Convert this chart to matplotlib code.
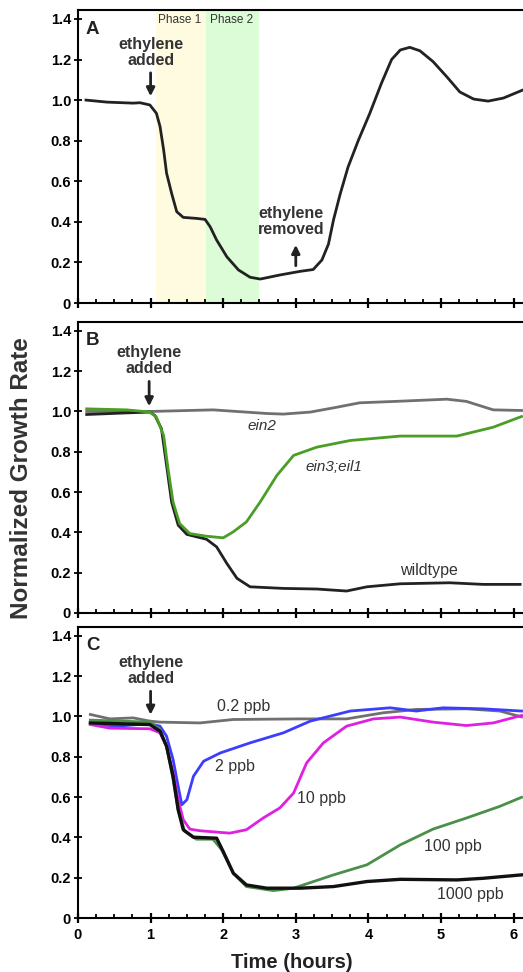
import matplotlib.pyplot as plt
from matplotlib.ticker import MultipleLocator, FixedLocator, FuncFormatter

plt.rcParams['font.family'] = ['Liberation Sans', 'DejaVu Sans']

# panel A: wildtype response, ethylene added then removed
a_t = [0.11, 0.40, 0.76, 0.854, 0.99, 1.08, 1.13, 1.18, 1.22, 1.29, 1.36, 1.45, 1.63, 1.75,
       1.82, 1.91, 2.05, 2.21, 2.37, 2.51, 2.78, 3.06, 3.24, 3.36, 3.45, 3.52, 3.61, 3.72,
       3.86, 4.02, 4.18, 4.32, 4.44, 4.57, 4.71, 4.89, 5.08, 5.26, 5.45, 5.65, 5.86, 6.13]
a_y = [1.00, 0.99, 0.985, 0.987, 0.976, 0.935, 0.87, 0.754, 0.64, 0.54, 0.45, 0.422, 0.417,
       0.412, 0.376, 0.31, 0.228, 0.163, 0.127, 0.118, 0.138, 0.156, 0.165, 0.212, 0.29, 0.41,
       0.535, 0.67, 0.80, 0.935, 1.083, 1.20, 1.247, 1.26, 1.243, 1.19, 1.115, 1.04, 1.005,
       0.995, 1.01, 1.05]

# panel B: mutants
ein2_t = [0.12, 0.99, 1.86, 2.6, 2.83, 3.2, 3.52, 3.88, 4.44, 5.08, 5.35, 5.72, 6.11]
ein2_y = [1.0, 1.0, 1.008, 0.99, 0.987, 0.997, 1.018, 1.043, 1.051, 1.061, 1.05, 1.008, 1.005]
wt_t = [0.12, 0.67, 0.99, 1.06, 1.15, 1.22, 1.29, 1.38, 1.50, 1.77, 1.91, 2.05, 2.19, 2.37,
        2.83, 3.29, 3.70, 3.98, 4.44, 5.12, 5.58, 6.09]
wt_y = [0.985, 0.993, 0.997, 0.98, 0.914, 0.733, 0.55, 0.436, 0.39, 0.366, 0.328, 0.246, 0.172,
        0.13, 0.122, 0.119, 0.109, 0.130, 0.145, 0.15, 0.142, 0.142]
ein3_t = [0.12, 0.67, 0.99, 1.08, 1.18, 1.24, 1.31, 1.40, 1.54, 1.77, 2.0, 2.14, 2.32, 2.51,
          2.74, 2.97, 3.29, 3.75, 4.44, 5.22, 5.72, 6.11]
ein3_y = [1.013, 1.008, 0.997, 0.972, 0.88, 0.716, 0.55, 0.444, 0.394, 0.381, 0.373, 0.403,
          0.452, 0.551, 0.683, 0.782, 0.823, 0.856, 0.878, 0.878, 0.922, 0.975]

# panel C: dose response
p02_t = [0.17, 0.44, 0.76, 0.99, 1.13, 1.68, 2.14, 3.06, 3.70, 4.2, 4.66, 5.35, 5.81, 6.11]
p02_y = [1.01, 0.988, 0.993, 0.977, 0.972, 0.968, 0.985, 0.988, 0.988, 1.018, 1.035, 1.038,
         1.027, 0.998]
p2_t = [0.17, 0.53, 0.99, 1.13, 1.22, 1.31, 1.38, 1.43, 1.50, 1.59, 1.73, 1.96, 2.37, 2.83,
        3.20, 3.75, 4.30, 4.66, 5.03, 5.58, 6.11]
p2_y = [0.964, 0.952, 0.964, 0.952, 0.902, 0.786, 0.653, 0.562, 0.587, 0.703, 0.778, 0.819,
        0.869, 0.919, 0.977, 1.027, 1.043, 1.027, 1.043, 1.038, 1.027]
p10_t = [0.17, 0.44, 0.99, 1.13, 1.22, 1.31, 1.38, 1.45, 1.54, 1.68, 2.09, 2.32, 2.55, 2.78,
         2.97, 3.15, 3.38, 3.70, 4.07, 4.44, 4.89, 5.35, 5.72, 6.11]
p10_y = [0.96, 0.942, 0.939, 0.919, 0.852, 0.72, 0.587, 0.488, 0.441, 0.433, 0.421, 0.438,
         0.496, 0.546, 0.62, 0.77, 0.869, 0.952, 0.988, 0.997, 0.972, 0.955, 0.968, 1.005]
p100_t = [0.17, 0.99, 1.13, 1.22, 1.31, 1.38, 1.47, 1.63, 1.86, 1.98, 2.14, 2.32, 2.69, 2.97,
          3.52, 3.98, 4.44, 4.89, 5.35, 5.81, 6.11]
p100_y = [0.982, 0.972, 0.935, 0.852, 0.687, 0.537, 0.43, 0.391, 0.391, 0.338, 0.222, 0.156,
          0.136, 0.148, 0.214, 0.264, 0.363, 0.441, 0.496, 0.554, 0.599]
p1000_t = [0.17, 0.99, 1.13, 1.22, 1.31, 1.38, 1.45, 1.59, 1.91, 2.0, 2.14, 2.32, 2.60, 3.06,
           3.52, 3.98, 4.44, 5.22, 5.58, 6.11]
p1000_y = [0.968, 0.96, 0.927, 0.852, 0.703, 0.537, 0.438, 0.401, 0.396, 0.33, 0.222, 0.164,
           0.148, 0.148, 0.156, 0.181, 0.192, 0.189, 0.197, 0.214]

y_ticks = [0, 0.2, 0.4, 0.6, 0.8, 1.0, 1.2, 1.4]
x_ticks = [0, 1, 2, 3, 4, 5, 6]

fig = plt.figure(figsize=(5.23, 9.72), dpi=100)
L, W = 78 / 523, 445 / 523
axA = fig.add_axes([L, 1 - 303 / 972, W, 293 / 972])
axB = fig.add_axes([L, 1 - 613 / 972, W, 291 / 972])
axC = fig.add_axes([L, 1 - 918 / 972, W, 291 / 972])

dark = '#222222'
txt = '#333333'
lw = 2.0

for ax, letter in [(axA, 'A'), (axB, 'B'), (axC, 'C')]:
    ax.set_xlim(0, 6.13)
    ax.set_ylim(0, 1.444)
    ax.spines['right'].set_visible(False)
    for s in ['top', 'left', 'bottom']:
        ax.spines[s].set_linewidth(1.5)
    ax.yaxis.set_major_locator(FixedLocator(y_ticks))
    ax.yaxis.set_major_formatter(FuncFormatter(lambda v, p: '0' if v == 0 else f'{v:.1f}'))
    ax.xaxis.set_major_locator(FixedLocator(x_ticks))
    ax.xaxis.set_minor_locator(MultipleLocator(0.25))
    ax.tick_params(axis='y', direction='inout', length=6, width=1.3, pad=2, labelsize=10.5)
    ax.tick_params(axis='x', which='major', direction='inout', length=7, width=1.6, labelsize=10.5)
    ax.tick_params(axis='x', which='minor', direction='in', length=3, width=1.3)
    for lab in ax.get_yticklabels() + ax.get_xticklabels():
        lab.set_fontweight('bold')
    ax.text(0.11, 1.35, letter, fontsize=13.5, fontweight='bold', color=dark, va='center')
    if ax is not axC:
        ax.tick_params(axis='x', labelbottom=False)

# panel A
axA.axvspan(1.08, 1.76, color='#fffbe0', lw=0, zorder=0)
axA.axvspan(1.76, 2.50, color='#dcfcd8', lw=0, zorder=0)
axA.text(1.40, 1.395, 'Phase 1', fontsize=8.5, ha='center', va='center', color=txt)
axA.text(2.12, 1.395, 'Phase 2', fontsize=8.5, ha='center', va='center', color=txt)
axA.plot(a_t, a_y, color=dark, lw=lw)
axA.text(1.0, 1.234, 'ethylene\nadded', fontsize=11.5, fontweight='bold', ha='center',
         va='center', color=txt, linespacing=1.1)
axA.annotate('', xy=(1.0, 1.005), xytext=(1.0, 1.148),
             arrowprops=dict(arrowstyle='-|>', lw=2, color=dark, mutation_scale=12))
axA.text(2.94, 0.40, 'ethylene\nremoved', fontsize=11.5, fontweight='bold', ha='center',
         va='center', color=txt, linespacing=1.1)
axA.annotate('', xy=(3.0, 0.30), xytext=(3.0, 0.17),
             arrowprops=dict(arrowstyle='-|>', lw=2, color=dark, mutation_scale=12))

# panel B
axB.plot(ein2_t, ein2_y, color='#707070', lw=lw)
axB.plot(wt_t, wt_y, color=dark, lw=lw)
axB.plot(ein3_t, ein3_y, color='#4a9e26', lw=lw)
axB.text(0.98, 1.252, 'ethylene\nadded', fontsize=11.5, fontweight='bold', ha='center',
         va='center', color=txt, linespacing=1.1)
axB.annotate('', xy=(0.98, 1.012), xytext=(0.98, 1.163),
             arrowprops=dict(arrowstyle='-|>', lw=2, color=dark, mutation_scale=12))
axB.text(2.53, 0.93, 'ein2', fontsize=11, style='italic', ha='center', va='center', color=txt)
axB.text(3.52, 0.724, 'ein3;eil1', fontsize=11, style='italic', ha='center', va='center', color=txt)
axB.text(4.84, 0.213, 'wildtype', fontsize=11.5, ha='center', va='center', color=txt)

# panel C
axC.plot(p02_t, p02_y, color='#707070', lw=lw)
axC.plot(p2_t, p2_y, color='#3d3dff', lw=lw)
axC.plot(p10_t, p10_y, color='#e020e0', lw=lw)
axC.plot(p100_t, p100_y, color='#4a9048', lw=lw)
axC.plot(p1000_t, p1000_y, color='#111111', lw=lw + 0.4)
axC.text(1.0, 1.229, 'ethylene\nadded', fontsize=11.5, fontweight='bold', ha='center',
         va='center', color=txt, linespacing=1.1)
axC.annotate('', xy=(1.0, 0.995), xytext=(1.0, 1.139),
             arrowprops=dict(arrowstyle='-|>', lw=2, color=dark, mutation_scale=12))
for s, x, y in [('0.2 ppb', 2.28, 1.048), ('2 ppb', 2.16, 0.753), ('10 ppb', 3.36, 0.595),
                ('100 ppb', 5.17, 0.355), ('1000 ppb', 5.40, 0.119)]:
    axC.text(x, y, s, fontsize=11.5, ha='center', va='center', color=txt)

fig.text(22 / 523, 1 - 478 / 972, 'Normalized Growth Rate', rotation=90, fontsize=17.5,
         fontweight='bold', ha='center', va='center', color=txt)
fig.text(292 / 523, 1 - 962 / 972, 'Time (hours)', fontsize=14.5, fontweight='bold',
         ha='center', va='center', color=dark)

fig.savefig('out.png', dpi=100)
